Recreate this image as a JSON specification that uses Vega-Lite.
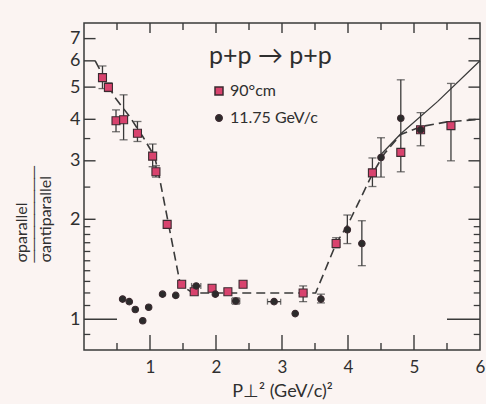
{
  "$schema": "https://vega.github.io/schema/vega-lite/v6.json",
  "width": 396,
  "height": 327,
  "autosize": {"type": "none"},
  "padding": {"left": 84, "top": 23, "right": 6, "bottom": 54},
  "background": "#fbf4f2",
  "datasets": {
    "pts": [
      {"series": "90°cm", "x": 0.28, "y": 5.34},
      {"series": "90°cm", "x": 0.37, "y": 4.99},
      {"series": "90°cm", "x": 0.485, "y": 3.96},
      {"series": "90°cm", "x": 0.60, "y": 3.99},
      {"series": "90°cm", "x": 0.81, "y": 3.63},
      {"series": "90°cm", "x": 1.04, "y": 3.10},
      {"series": "90°cm", "x": 1.09, "y": 2.78},
      {"series": "90°cm", "x": 1.26, "y": 1.93},
      {"series": "90°cm", "x": 1.48, "y": 1.275},
      {"series": "90°cm", "x": 1.67, "y": 1.21},
      {"series": "90°cm", "x": 1.94, "y": 1.24},
      {"series": "90°cm", "x": 2.18, "y": 1.21},
      {"series": "90°cm", "x": 2.41, "y": 1.275},
      {"series": "90°cm", "x": 3.32, "y": 1.20},
      {"series": "90°cm", "x": 3.82, "y": 1.69},
      {"series": "90°cm", "x": 4.37, "y": 2.76},
      {"series": "90°cm", "x": 4.80, "y": 3.18},
      {"series": "90°cm", "x": 5.10, "y": 3.72},
      {"series": "90°cm", "x": 5.56, "y": 3.83},
      {"series": "11.75 GeV/c", "x": 0.585, "y": 1.15},
      {"series": "11.75 GeV/c", "x": 0.686, "y": 1.13},
      {"series": "11.75 GeV/c", "x": 0.777, "y": 1.07},
      {"series": "11.75 GeV/c", "x": 0.89, "y": 0.99},
      {"series": "11.75 GeV/c", "x": 0.98, "y": 1.087},
      {"series": "11.75 GeV/c", "x": 1.19, "y": 1.19},
      {"series": "11.75 GeV/c", "x": 1.39, "y": 1.18},
      {"series": "11.75 GeV/c", "x": 1.70, "y": 1.26},
      {"series": "11.75 GeV/c", "x": 1.99, "y": 1.19},
      {"series": "11.75 GeV/c", "x": 2.30, "y": 1.135},
      {"series": "11.75 GeV/c", "x": 2.88, "y": 1.13},
      {"series": "11.75 GeV/c", "x": 3.20, "y": 1.04},
      {"series": "11.75 GeV/c", "x": 3.59, "y": 1.15},
      {"series": "11.75 GeV/c", "x": 3.99, "y": 1.86},
      {"series": "11.75 GeV/c", "x": 4.21, "y": 1.69},
      {"series": "11.75 GeV/c", "x": 4.50, "y": 3.07},
      {"series": "11.75 GeV/c", "x": 4.80, "y": 4.03},
      {"series": "11.75 GeV/c", "x": 5.10, "y": 3.72}
    ],
    "err": [
      {"x": 0.28, "lo": 4.95, "hi": 5.79},
      {"x": 0.37, "lo": 4.85, "hi": 5.15},
      {"x": 0.485, "lo": 3.67, "hi": 4.27},
      {"x": 0.60, "lo": 3.47, "hi": 4.74},
      {"x": 0.81, "lo": 3.43, "hi": 3.94},
      {"x": 1.04, "lo": 2.88, "hi": 3.37},
      {"x": 1.09, "lo": 2.68, "hi": 2.90},
      {"x": 2.30, "lo": 1.11, "hi": 1.16},
      {"x": 3.32, "lo": 1.13, "hi": 1.26},
      {"x": 3.59, "lo": 1.12, "hi": 1.19},
      {"x": 3.82, "lo": 1.64, "hi": 1.76},
      {"x": 3.99, "lo": 1.69, "hi": 2.06},
      {"x": 4.21, "lo": 1.45, "hi": 1.98},
      {"x": 4.37, "lo": 2.51, "hi": 3.06},
      {"x": 4.50, "lo": 2.68, "hi": 3.52},
      {"x": 4.80, "lo": 2.78, "hi": 5.26},
      {"x": 5.10, "lo": 3.33, "hi": 4.19},
      {"x": 5.56, "lo": 3.0, "hi": 5.13}
    ],
    "xerr": [
      {"y": 1.26, "xlo": 1.63, "xhi": 1.77},
      {"y": 1.135, "xlo": 2.24, "xhi": 2.36},
      {"y": 1.13, "xlo": 2.78, "xhi": 2.98}
    ],
    "dash": [
      {"x": 0.17, "y": 6.0},
      {"x": 0.46, "y": 4.68},
      {"x": 0.69, "y": 4.08},
      {"x": 0.89, "y": 3.55},
      {"x": 1.07, "y": 3.09},
      {"x": 1.14, "y": 2.69},
      {"x": 1.46, "y": 1.27},
      {"x": 1.65, "y": 1.20},
      {"x": 3.51, "y": 1.20},
      {"x": 3.82, "y": 1.69},
      {"x": 4.0, "y": 1.93},
      {"x": 4.37, "y": 2.74},
      {"x": 4.55, "y": 3.15},
      {"x": 4.80, "y": 3.60},
      {"x": 5.1, "y": 3.80},
      {"x": 5.5, "y": 3.93},
      {"x": 6.0, "y": 4.0}
    ],
    "solid": [
      {"x": 4.47, "y": 3.09},
      {"x": 4.80, "y": 3.62},
      {"x": 5.36, "y": 4.53},
      {"x": 6.0, "y": 6.0}
    ],
    "xmajor": [{"v": 1}, {"v": 2}, {"v": 3}, {"v": 4}, {"v": 5}],
    "xminor": [{"v": 0.5}, {"v": 1.5}, {"v": 2.5}, {"v": 3.5}, {"v": 4.5}, {"v": 5.5}],
    "ymajor": [{"v": 2}, {"v": 3}, {"v": 4}, {"v": 5}, {"v": 6}, {"v": 7}],
    "yminor": [{"v": 0.9}, {"v": 1.1}, {"v": 1.2}, {"v": 1.3}, {"v": 1.4}, {"v": 1.5}, {"v": 1.6}, {"v": 1.7}, {"v": 1.8}, {"v": 1.9}, {"v": 2.5}, {"v": 3.5}]
  },
  "layer": [
    {
      "data": {"name": "xmajor"},
      "mark": {"type": "rule", "color": "#3a3a3a", "strokeWidth": 1.4},
      "encoding": {
        "x": {"field": "v", "type": "quantitative", "scale": {"type": "linear", "domain": [0, 6], "nice": false, "zero": false}},
        "y": {"datum": 0.808, "type": "quantitative", "scale": {"type": "log", "domain": [0.808, 7.8], "nice": false}},
        "y2": {"datum": 0.897}
      }
    },
    {
      "data": {"name": "xmajor"},
      "mark": {"type": "rule", "color": "#3a3a3a", "strokeWidth": 1.4},
      "encoding": {
        "x": {"field": "v", "type": "quantitative", "scale": {"type": "linear", "domain": [0, 6], "nice": false, "zero": false}},
        "y": {"datum": 7.277, "type": "quantitative", "scale": {"type": "log", "domain": [0.808, 7.8], "nice": false}},
        "y2": {"datum": 7.8}
      }
    },
    {
      "data": {"name": "xminor"},
      "mark": {"type": "rule", "color": "#3a3a3a", "strokeWidth": 1.4},
      "encoding": {
        "x": {"field": "v", "type": "quantitative", "scale": {"type": "linear", "domain": [0, 6], "nice": false, "zero": false}},
        "y": {"datum": 0.808, "type": "quantitative", "scale": {"type": "log", "domain": [0.808, 7.8], "nice": false}},
        "y2": {"datum": 0.848}
      }
    },
    {
      "data": {"name": "xminor"},
      "mark": {"type": "rule", "color": "#3a3a3a", "strokeWidth": 1.4},
      "encoding": {
        "x": {"field": "v", "type": "quantitative", "scale": {"type": "linear", "domain": [0, 6], "nice": false, "zero": false}},
        "y": {"datum": 7.431, "type": "quantitative", "scale": {"type": "log", "domain": [0.808, 7.8], "nice": false}},
        "y2": {"datum": 7.8}
      }
    },
    {
      "data": {"name": "ymajor"},
      "mark": {"type": "rule", "color": "#3a3a3a", "strokeWidth": 1.4},
      "encoding": {
        "x": {"datum": 0, "type": "quantitative", "scale": {"type": "linear", "domain": [0, 6], "nice": false, "zero": false}},
        "x2": {"datum": 0.175},
        "y": {"field": "v", "type": "quantitative", "scale": {"type": "log", "domain": [0.808, 7.8], "nice": false}}
      }
    },
    {
      "data": {"name": "ymajor"},
      "mark": {"type": "rule", "color": "#3a3a3a", "strokeWidth": 1.4},
      "encoding": {
        "x": {"datum": 5.825, "type": "quantitative", "scale": {"type": "linear", "domain": [0, 6], "nice": false, "zero": false}},
        "x2": {"datum": 6},
        "y": {"field": "v", "type": "quantitative", "scale": {"type": "log", "domain": [0.808, 7.8], "nice": false}}
      }
    },
    {
      "data": {"name": "yminor"},
      "mark": {"type": "rule", "color": "#3a3a3a", "strokeWidth": 1.3},
      "encoding": {
        "x": {"datum": 0, "type": "quantitative", "scale": {"type": "linear", "domain": [0, 6], "nice": false, "zero": false}},
        "x2": {"datum": 0.095},
        "y": {"field": "v", "type": "quantitative", "scale": {"type": "log", "domain": [0.808, 7.8], "nice": false}}
      }
    },
    {
      "data": {"name": "yminor"},
      "mark": {"type": "rule", "color": "#3a3a3a", "strokeWidth": 1.3},
      "encoding": {
        "x": {"datum": 5.905, "type": "quantitative", "scale": {"type": "linear", "domain": [0, 6], "nice": false, "zero": false}},
        "x2": {"datum": 6},
        "y": {"field": "v", "type": "quantitative", "scale": {"type": "log", "domain": [0.808, 7.8], "nice": false}}
      }
    },
    {
      "data": {"name": "dash"},
      "mark": {"type": "line", "color": "#3a3a3a", "strokeWidth": 1.6, "strokeDash": [9, 5]},
      "encoding": {
        "x": {"field": "x", "type": "quantitative", "scale": {"type": "linear", "domain": [0, 6], "nice": false, "zero": false}},
        "y": {"field": "y", "type": "quantitative", "scale": {"type": "log", "domain": [0.808, 7.8], "nice": false}}
      }
    },
    {
      "data": {"name": "solid"},
      "mark": {"type": "line", "color": "#3a3a3a", "strokeWidth": 1.3},
      "encoding": {
        "x": {"field": "x", "type": "quantitative", "scale": {"type": "linear", "domain": [0, 6], "nice": false, "zero": false}},
        "y": {"field": "y", "type": "quantitative", "scale": {"type": "log", "domain": [0.808, 7.8], "nice": false}}
      }
    },
    {
      "data": {"values": [{"a": 0, "b": 0.5}, {"a": 5.5, "b": 6}]},
      "mark": {"type": "rule", "color": "#3a3a3a", "strokeWidth": 1.4},
      "encoding": {
        "x": {"field": "a", "type": "quantitative", "scale": {"type": "linear", "domain": [0, 6], "nice": false, "zero": false}},
        "x2": {"field": "b"},
        "y": {"datum": 1, "type": "quantitative", "scale": {"type": "log", "domain": [0.808, 7.8], "nice": false}}
      }
    },
    {
      "data": {"name": "err"},
      "mark": {"type": "rule", "color": "#3a3a3a", "strokeWidth": 1.3},
      "encoding": {
        "x": {"field": "x", "type": "quantitative", "scale": {"type": "linear", "domain": [0, 6], "nice": false, "zero": false}},
        "y": {"field": "lo", "type": "quantitative", "scale": {"type": "log", "domain": [0.808, 7.8], "nice": false}},
        "y2": {"field": "hi"}
      }
    },
    {
      "data": {"name": "err"},
      "mark": {"type": "tick", "orient": "horizontal", "color": "#3a3a3a", "size": 8, "thickness": 1.3},
      "encoding": {
        "x": {"field": "x", "type": "quantitative", "scale": {"type": "linear", "domain": [0, 6], "nice": false, "zero": false}},
        "y": {"field": "lo", "type": "quantitative", "scale": {"type": "log", "domain": [0.808, 7.8], "nice": false}}
      }
    },
    {
      "data": {"name": "err"},
      "mark": {"type": "tick", "orient": "horizontal", "color": "#3a3a3a", "size": 8, "thickness": 1.3},
      "encoding": {
        "x": {"field": "x", "type": "quantitative", "scale": {"type": "linear", "domain": [0, 6], "nice": false, "zero": false}},
        "y": {"field": "hi", "type": "quantitative", "scale": {"type": "log", "domain": [0.808, 7.8], "nice": false}}
      }
    },
    {
      "data": {"name": "xerr"},
      "mark": {"type": "rule", "color": "#3a3a3a", "strokeWidth": 1.3},
      "encoding": {
        "x": {"field": "xlo", "type": "quantitative", "scale": {"type": "linear", "domain": [0, 6], "nice": false, "zero": false}},
        "x2": {"field": "xhi"},
        "y": {"field": "y", "type": "quantitative", "scale": {"type": "log", "domain": [0.808, 7.8], "nice": false}}
      }
    },
    {
      "data": {"name": "xerr"},
      "mark": {"type": "tick", "orient": "vertical", "color": "#3a3a3a", "size": 6, "thickness": 1.3},
      "encoding": {
        "x": {"field": "xlo", "type": "quantitative", "scale": {"type": "linear", "domain": [0, 6], "nice": false, "zero": false}},
        "y": {"field": "y", "type": "quantitative", "scale": {"type": "log", "domain": [0.808, 7.8], "nice": false}}
      }
    },
    {
      "data": {"name": "xerr"},
      "mark": {"type": "tick", "orient": "vertical", "color": "#3a3a3a", "size": 6, "thickness": 1.3},
      "encoding": {
        "x": {"field": "xhi", "type": "quantitative", "scale": {"type": "linear", "domain": [0, 6], "nice": false, "zero": false}},
        "y": {"field": "y", "type": "quantitative", "scale": {"type": "log", "domain": [0.808, 7.8], "nice": false}}
      }
    },
    {
      "data": {"name": "pts"},
      "mark": {"type": "point", "filled": true, "opacity": 1, "stroke": "#3b2a30", "strokeWidth": 1.1},
      "encoding": {
        "x": {"field": "x", "type": "quantitative", "scale": {"type": "linear", "domain": [0, 6], "nice": false, "zero": false},
          "axis": {"orient": "bottom", "values": [1, 2, 3, 4, 5, 6], "format": "d",
            "ticks": false, "labelPadding": 9, "labelFlush": false, "labelOverlap": false,
            "title": "P⊥² (GeV/c)²", "titleFontSize": 18, "titleY": 46, "titleBaseline": "alphabetic"}},
        "y": {"field": "y", "type": "quantitative", "scale": {"type": "log", "domain": [0.808, 7.8], "nice": false},
          "axis": {"orient": "left", "values": [1, 2, 3, 4, 5, 6, 7], "format": "d",
            "ticks": false, "labelPadding": 4, "labelOverlap": false, "labelFontSize": 18,
            "title": ["σparallel", "────────", "σantiparallel"],
            "titleAngle": 270, "titleAlign": "left", "titleBaseline": "top", "titleX": -71, "titleY": 239,
            "titleFontSize": 16, "titleLineHeight": 12}},
        "shape": {"field": "series", "type": "nominal", "scale": {"domain": ["90°cm", "11.75 GeV/c"], "range": ["square", "circle"]},
          "legend": {"title": "p+p → p+p"}},
        "color": {"field": "series", "type": "nominal", "scale": {"domain": ["90°cm", "11.75 GeV/c"], "range": ["#d8436e", "#2b2b2b"]},
          "legend": {"title": "p+p → p+p"}},
        "size": {"field": "series", "type": "nominal", "scale": {"domain": ["90°cm", "11.75 GeV/c"], "range": [64, 42]}, "legend": null}
      }
    }
  ],
  "config": {
    "view": {"stroke": "#3a3a3a", "strokeWidth": 1.5},
    "axis": {"domain": false, "grid": false, "ticks": false, "labelFont": "Lato", "labelFontSize": 17, "labelColor": "#2f2f2f",
      "titleFont": "Lato", "titleFontWeight": "normal", "titleColor": "#2f2f2f"},
    "legend": {"orient": "none", "legendX": 125, "legendY": 21, "padding": 0,
      "titleFont": "Lato", "titleFontSize": 25, "titleFontWeight": "normal", "titleColor": "#2f2f2f",
      "labelFont": "Lato", "labelFontSize": 16, "labelColor": "#2f2f2f", "labelOffset": 3,
      "symbolSize": 45, "symbolOffset": 2, "rowPadding": 11, "titlePadding": 14}
  }
}
